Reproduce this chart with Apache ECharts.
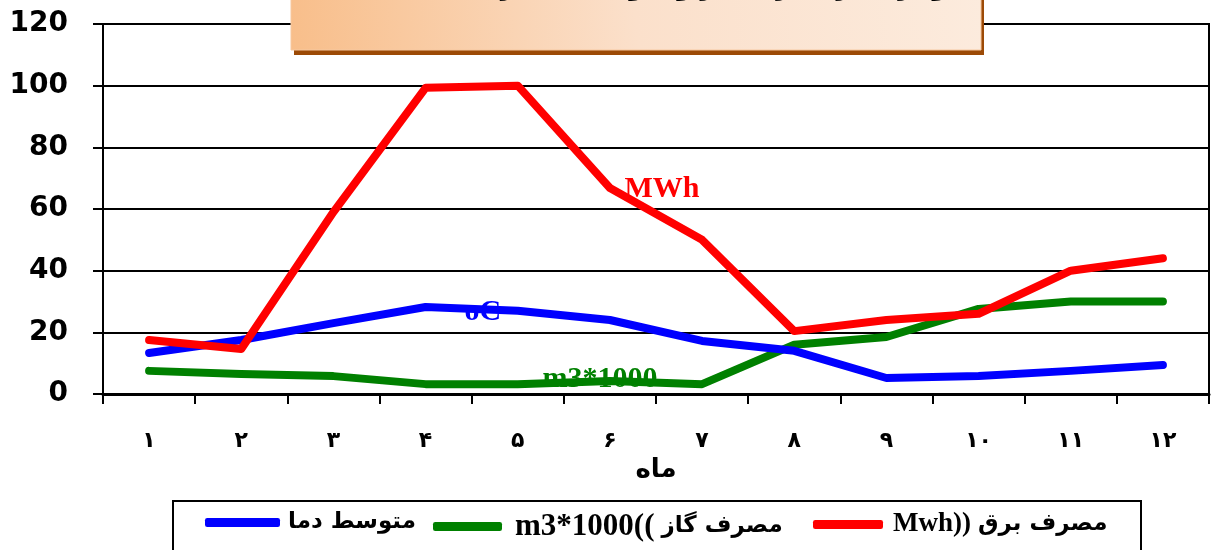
<!DOCTYPE html>
<html>
<head>
<meta charset="utf-8">
<script src="https://cdn.jsdelivr.net/npm/echarts@6/dist/echarts.min.js"></script>
<style>html,body{margin:0;padding:0;background:#fff}#c{width:1213px;height:550px}</style>
</head>
<body>
<div id="c"></div>
<script>
const months = ['۱','۲','۳','۴','۵','۶','۷','۸','۹','۱۰','۱۱','۱۲'];
const yTicks = [0, 20, 40, 60, 80, 100, 120];
const electricity = [17.5, 14.6, 59, 99.3, 100, 66.8, 50, 20.4, 24, 26, 40, 44];
const gas = [7.5, 6.5, 5.8, 3.2, 3.2, 4.2, 3.2, 16, 18.5, 27.6, 30, 30];
const temperature = [13.3, 17.5, 23, 28.2, 27, 24, 17.2, 14, 5.2, 5.8, 7.5, 9.4];
const seriesNames = ['متوسط دما', 'مصرف گاز((m3*1000', 'مصرف برق((Mwh'];
const legendLatin = ['', 'm3*1000((', 'Mwh))'];
const legendArabic = ['متوسط دما', 'مصرف گاز', 'مصرف برق'];
const seriesUnits = ['oC', 'm3*1000', 'MWh'];
const xName = 'ماه';
const titleText = 'نمودار مصرف برق، گاز و متوسط دما در ماه‌های سال';

const chart = echarts.init(document.getElementById('c'));
const latin = "'Liberation Serif', 'Times New Roman', serif";
const arabic = "'DejaVu Sans', sans-serif";

function withLabel(arr, idx, label) {
  return arr.map((v, i) => i === idx ? { value: v, label: label } : v);
}

function legendFor(i, left, itemWidth, pad, latinSize) {
  return {
    data: [seriesNames[i]], left: left, top: 511, padding: 0,
    itemWidth: itemWidth, itemHeight: 9, icon: 'roundRect',
    formatter: function () {
      const parts = [];
      if (legendLatin[i]) parts.push('{l|' + legendLatin[i] + '}');
      parts.push('{a|' + legendArabic[i] + '}');
      return parts.join('');
    },
    textStyle: {
      color: '#000',
      rich: {
        l: { fontSize: latinSize, fontWeight: 'bold', fontFamily: latin, color: '#000', padding: [0, 7, 0, pad] },
        a: { fontSize: 23, fontWeight: 'bold', fontFamily: arabic, color: '#000', padding: [0, 0, 0, legendLatin[i] ? 0 : pad] }
      }
    }
  };
}

const option = {
  animation: false,
  grid: { left: 103, right: 4, top: 24, bottom: 156, show: true, borderColor: '#000', borderWidth: 2 },
  xAxis: {
    type: 'category',
    data: months,
    boundaryGap: true,
    axisLine: { lineStyle: { color: '#000', width: 3 } },
    axisTick: { show: true, length: 10, lineStyle: { color: '#000', width: 2 } },
    axisLabel: { color: '#000', fontSize: 22, fontWeight: 'bold', margin: 36, fontFamily: arabic },
    name: xName,
    nameLocation: 'middle',
    nameGap: 58,
    nameTextStyle: { color: '#000', fontSize: 26, fontWeight: 'bold', fontFamily: arabic }
  },
  yAxis: {
    type: 'value',
    min: yTicks[0], max: yTicks[yTicks.length - 1], interval: 20,
    axisLine: { show: true, lineStyle: { color: '#000', width: 2 } },
    axisTick: { show: true, length: 10, lineStyle: { color: '#000', width: 2 } },
    axisLabel: { color: '#000', fontSize: 28, fontWeight: 'bold', margin: 35, fontFamily: "'DejaVu Sans', sans-serif" },
    splitLine: { show: true, lineStyle: { color: '#000', width: 2 } }
  },
  legend: [
    legendFor(0, 205, 75, 3, 27),
    legendFor(1, 433, 69, 8, 31),
    legendFor(2, 813, 70, 5, 27)
  ],
  graphic: [
    { type: 'rect', z: 100, shape: { x: 173, y: 501, width: 968, height: 70 },
      style: { fill: 'none', stroke: '#000', lineWidth: 2 } },
    { type: 'rect', z: 100, shape: { x: 294, y: -10, width: 690, height: 65 },
      style: { fill: '#9C4A06' } },
    { type: 'rect', z: 101, shape: { x: 291, y: -10, width: 690, height: 60 },
      style: {
        fill: new echarts.graphic.LinearGradient(0, 1, 1, 0, [
          { offset: 0, color: '#F8BE8A' },
          { offset: 0.5, color: '#FBE0CB' },
          { offset: 1, color: '#FCEBDD' }
        ]),
        stroke: '#F6C8A0', lineWidth: 1
      } },
    { type: 'text', z: 102, left: 345, top: -23,
      style: { text: titleText, fontSize: 24, fontWeight: 'bold', fill: '#000', fontFamily: arabic } }
  ],
  series: [
    {
      name: seriesNames[0], type: 'line', symbol: 'circle', symbolSize: 1, showSymbol: true, z: 3,
      lineStyle: { color: '#0000FF', width: 8, cap: 'round', join: 'round' },
      itemStyle: { color: '#0000FF' },
      data: withLabel(temperature, 4, {
        show: true, formatter: seriesUnits[0], position: 'left', distance: 16, offset: [0, 1],
        color: '#0000FF', fontSize: 30, fontWeight: 'bold', fontFamily: latin
      })
    },
    {
      name: seriesNames[1], type: 'line', symbol: 'circle', symbolSize: 1, showSymbol: true, z: 2,
      lineStyle: { color: '#008000', width: 8, cap: 'round', join: 'round' },
      itemStyle: { color: '#008000' },
      data: withLabel(gas, 5, {
        show: true, formatter: seriesUnits[1], position: 'inside', offset: [-10, -2],
        color: '#008000', fontSize: 30, fontWeight: 'bold', fontFamily: latin
      })
    },
    {
      name: seriesNames[2], type: 'line', symbol: 'circle', symbolSize: 1, showSymbol: true, z: 4,
      lineStyle: { color: '#FF0000', width: 8, cap: 'round', join: 'round' },
      itemStyle: { color: '#FF0000' },
      data: withLabel(electricity, 5, {
        show: true, formatter: seriesUnits[2], position: 'right', distance: 14, offset: [0, 1],
        color: '#FF0000', fontSize: 30, fontWeight: 'bold', fontFamily: latin
      })
    }
  ]
};
chart.setOption(option);
</script>
</body>
</html>
